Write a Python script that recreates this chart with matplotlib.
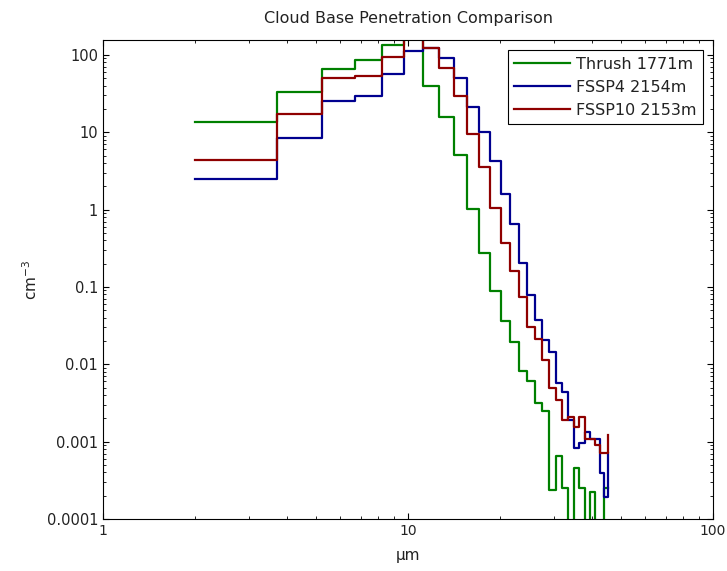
import matplotlib
matplotlib.use("Agg")
import matplotlib.pyplot as plt
from matplotlib.ticker import FixedLocator, FuncFormatter, NullFormatter

plt.rcParams['font.family'] = ['DejaVu Sans']

# bin start diameters (um); the last entry closes the final bin
diameter = [2.0, 3.72, 5.21, 6.70, 8.19, 9.68, 11.17, 12.65, 14.14, 15.63,
            17.12, 18.61, 20.10, 21.59, 23.08, 24.57, 26.06, 27.54, 29.03, 30.52,
            32.01, 33.50, 34.99, 36.48, 37.97, 39.46, 40.95, 42.44, 43.92, 45.41]

# number concentration per bin (cm^-3)
thrush_1771 = [13.5, 33.0, 66.0, 86.0, 135.0, 200.0, 40.0, 15.9, 5.1, 1.02,
               0.278, 0.0895, 0.0363, 0.0196, 0.0083, 0.006, 0.0032, 0.0025, 0.00024, 0.00065,
               0.00025, 5e-5, 0.00045, 0.00025, 5e-5, 0.000225, 5e-5, 5e-5, 0.00025, 0.00025]
fssp4_2154 = [2.47, 8.4, 25.4, 29.8, 56.3, 112.0, 122.0, 91.5, 50.5, 21.5,
              10.2, 4.26, 1.6, 0.647, 0.206, 0.079, 0.0374, 0.0207, 0.0146, 0.0057,
              0.0044, 0.0019, 0.00082, 0.00095, 0.00135, 0.00107, 0.00107, 0.00039, 0.00019, 0.00071]
fssp10_2153 = [4.39, 17.3, 51.0, 54.0, 95.0, 200.0, 124.0, 67.0, 29.5, 9.4,
               3.53, 1.06, 0.367, 0.163, 0.075, 0.0307, 0.0211, 0.0114, 0.0049, 0.00346,
               0.0019, 0.0021, 0.00156, 0.0021, 0.00107, 0.00107, 0.00091, 0.00072, 0.00072, 0.00122]

x_ticks = [1, 10, 100]
y_ticks = [0.0001, 0.001, 0.01, 0.1, 1, 10, 100]

fig = plt.figure(figsize=(7.27, 5.71), dpi=100)
ax = fig.add_axes([0.1417, 0.0911, 0.8391, 0.8389])

ax.step(diameter, thrush_1771, where='post', color=(0, 0.5, 0), lw=1.6, label='Thrush 1771m')
ax.step(diameter, fssp4_2154, where='post', color=(0, 0, 0.56), lw=1.6, label='FSSP4 2154m')
ax.step(diameter, fssp10_2153, where='post', color=(0.56, 0, 0), lw=1.6, label='FSSP10 2153m')

ax.set_xscale('log')
ax.set_yscale('log')
ax.set_xlim(1, 100)
ax.set_ylim(1e-4, 156)

# minor ticks at 2..9 times each decade, kept inside the view
x_minor = [m * d for d in x_ticks[:-1] for m in range(2, 10)]
y_minor = [m * d for d in y_ticks for m in range(2, 10) if m * d <= 156]

fmt = FuncFormatter(lambda v, p: f'{v:g}')
ax.xaxis.set_major_locator(FixedLocator(x_ticks))
ax.yaxis.set_major_locator(FixedLocator(y_ticks))
ax.xaxis.set_minor_locator(FixedLocator(x_minor))
ax.yaxis.set_minor_locator(FixedLocator(y_minor))
ax.xaxis.set_major_formatter(fmt)
ax.yaxis.set_major_formatter(fmt)
ax.xaxis.set_minor_formatter(NullFormatter())
ax.yaxis.set_minor_formatter(NullFormatter())

ax.tick_params(which='both', direction='in', top=True, right=True,
               colors='black', labelcolor='#222222')
ax.tick_params(axis='y', labelsize=10.5)
ax.tick_params(axis='x', labelsize=10)
ax.tick_params(which='major', length=4, width=0.8)
ax.tick_params(which='minor', length=2.5, width=0.6)
for s in ax.spines.values():
    s.set_linewidth(0.8)

ax.set_title('Cloud Base Penetration Comparison', fontsize=11.5, pad=12, color='#222222')
ax.set_xlabel('\u00b5m', fontsize=11, labelpad=7, color='#222222')
ax.set_ylabel('cm$^{-3}$', fontsize=11, labelpad=5, color='#222222')

leg = ax.legend(loc='upper right', fontsize=11.5, fancybox=False, edgecolor='black',
                handlelength=3.5, handletextpad=0.35, borderpad=0.4, labelspacing=0.5,
                borderaxespad=0.65, framealpha=1)
leg.get_frame().set_linewidth(0.8)
for t in leg.get_texts():
    t.set_color('#222222')

fig.savefig('out.png', dpi=100)
